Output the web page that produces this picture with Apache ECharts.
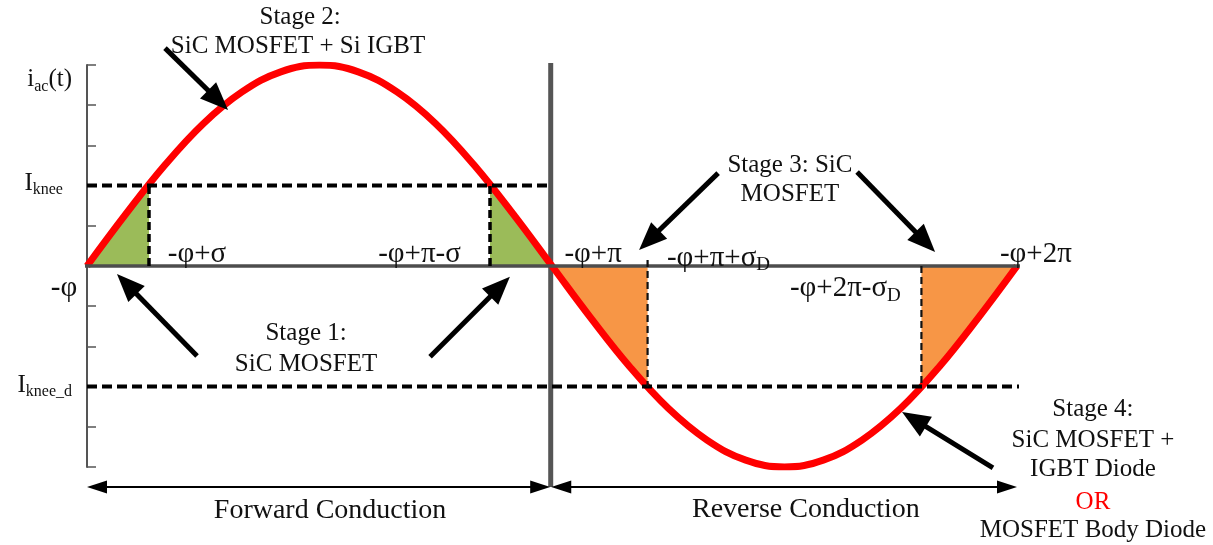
<!DOCTYPE html>
<html>
<head>
<meta charset="utf-8">
<script src="https://cdn.jsdelivr.net/npm/echarts@6/dist/echarts.min.js"></script>
<style>
  html, body { margin: 0; padding: 0; background: #ffffff; }
  #chart { width: 1213px; height: 545px; }
</style>
</head>
<body>
<div id="chart"></div>
<script>
// Phase angle, in degrees counted from -φ, and the normalised ac current i_ac(t)
const phaseDeg = [0, 15, 30, 45, 60, 75, 90, 105, 120, 135, 150, 165, 180,
                  195, 210, 225, 240, 255, 270, 285, 300, 315, 330, 345, 360];
const currentAc = [0, 1.29, 2.5, 3.54, 4.33, 4.83, 5, 4.83, 4.33, 3.54, 2.5, 1.29, 0,
                   -1.29, -2.5, -3.54, -4.33, -4.83, -5, -4.83, -4.33, -3.54, -2.5, -1.29, 0];

// Knee currents (forward and diode) on the same scale
const kneeForward = 2;
const kneeDiode = -3;

// Stage boundaries along the phase axis
const boundaryDeg = [0, 24, 156, 180, 217, 323, 360];
const boundaryLabels = ['-φ', '-φ+σ', '-φ+π-σ', '-φ+π', '-φ+π+σD', '-φ+2π-σD', '-φ+2π'];

// Vertical scale ticks
const yTicks = [-5, -4, -3, -2, -1, 0, 1, 2, 3, 4, 5];

const FONT = 'Liberation Serif';
const rich = {
  m: { fontFamily: FONT, fontSize: 25, fill: '#111111' },
  s: { fontFamily: FONT, fontSize: 16, fill: '#111111', padding: [14, 0, 0, 0] },
  p: { fontFamily: FONT, fontSize: 29, fill: '#111111' },
  ps: { fontFamily: FONT, fontSize: 19, fill: '#111111', padding: [15, 0, 0, 0] },
  b: { fontFamily: FONT, fontSize: 28, fill: '#111111' },
  r: { fontFamily: FONT, fontSize: 25, fill: '#ff0000' }
};

// Text annotations: anchor in (phase, current) coordinates
const notes = [
  { text: '{m|Stage 2:}', at: [82.5, 6.19] },
  { text: '{m|SiC MOSFET + Si IGBT}', at: [81.7, 5.47] },
  { text: '{m|i}{s|ac}{m|(t)}', at: [-5.8, 4.63], align: 'right' },
  { text: '{m|I}{s|knee}', at: [-9.3, 2.06], align: 'right' },
  { text: '{m|I}{s|knee_d}', at: [-5.8, -2.96], align: 'right' },
  { text: '{p|' + boundaryLabels[0] + '}', at: [-8.9, -0.55] },
  { text: '{p|' + boundaryLabels[1] + '}', at: [42.6, 0.3] },
  { text: '{p|' + boundaryLabels[2] + '}', at: [128.7, 0.28] },
  { text: '{p|' + boundaryLabels[3] + '}', at: [195.9, 0.28] },
  { text: '{p|-φ+π+σ}{ps|D}', at: [224.5, 0.2], align: 'left' },
  { text: '{p|-φ+2π-σ}{ps|D}', at: [272.1, -0.55], align: 'left' },
  { text: '{p|' + boundaryLabels[6] + '}', at: [353.4, 0.28], align: 'left' },
  { text: '{m|Stage 3: SiC}', at: [272.1, 2.51] },
  { text: '{m|MOSFET}', at: [272.1, 1.77] },
  { text: '{m|Stage 1:}', at: [84.8, -1.67] },
  { text: '{m|SiC MOSFET}', at: [84.8, -2.46] },
  { text: '{m|Stage 4:}', at: [389.4, -3.58] },
  { text: '{m|SiC MOSFET +}', at: [389.4, -4.33] },
  { text: '{m|IGBT Diode}', at: [389.4, -5.07] },
  { text: '{r|OR}', at: [389.4, -5.87] },
  { text: '{m|MOSFET Body Diode}', at: [389.4, -6.57] },
  { text: '{b|Forward Conduction}', at: [94.1, -6.09] },
  { text: '{b|Reverse Conduction}', at: [278.3, -6.07] }
];

// Pointer arrows: tail (phase, current) -> tip (phase, current)
const stageArrows = [
  [30.2, 5.42, 54.6, 3.88],
  [42.6, -2.24, 11.6, -0.2],
  [132.8, -2.26, 163.7, -0.27],
  [244.3, 2.31, 213.7, 0.4],
  [298.1, 2.34, 328.3, 0.35],
  [350.7, -5.02, 315.5, -3.63]
];
// Conduction span arrows (double headed)
const spanArrows = [
  [0, -5.5, 179.3, -5.5],
  [179.7, -5.5, 360, -5.5]
];

function arrowRenderer(shaft, headL, headW, both) {
  return function (params, api) {
    const a = api.coord([api.value(0), api.value(1)]);
    const b = api.coord([api.value(2), api.value(3)]);
    const dx = b[0] - a[0], dy = b[1] - a[1];
    const len = Math.hypot(dx, dy);
    const ux = dx / len, uy = dy / len, nx = -uy, ny = ux;
    const head = (tip, sx, sy) => ({
      type: 'polygon',
      shape: { points: [
        [tip[0], tip[1]],
        [tip[0] - sx * headL + nx * headW / 2, tip[1] - sy * headL + ny * headW / 2],
        [tip[0] - sx * headL - nx * headW / 2, tip[1] - sy * headL - ny * headW / 2]
      ] },
      style: { fill: '#000000' }
    });
    const start = both ? [a[0] + ux * headL * 0.8, a[1] + uy * headL * 0.8] : a;
    const end = [b[0] - ux * headL * 0.8, b[1] - uy * headL * 0.8];
    const children = [
      { type: 'line', shape: { x1: start[0], y1: start[1], x2: end[0], y2: end[1] },
        style: { stroke: '#000000', lineWidth: shaft } },
      head(b, ux, uy)
    ];
    if (both) children.push(head(a, -ux, -uy));
    return { type: 'group', children: children };
  };
}

function segment(points, style, z) {
  return {
    type: 'line', data: points, symbol: 'none', clip: false, silent: true,
    animation: false, z: z, lineStyle: style
  };
}

const curve = phaseDeg.map((d, i) => [d, currentAc[i]]);
const dashThick = { color: '#000000', width: 4, type: [10, 5] };
const dashThin = { color: '#111111', width: 2.2, type: [7, 4] };

const chart = echarts.init(document.getElementById('chart'));
chart.setOption({
  backgroundColor: '#ffffff',
  animation: false,
  grid: { left: 87, top: 65, width: 930, height: 402 },
  xAxis: { type: 'value', min: 0, max: 360, show: false },
  yAxis: {
    type: 'value', min: yTicks[0], max: yTicks[yTicks.length - 1], interval: 1,
    axisLine: { show: true, onZero: false, lineStyle: { color: '#555555', width: 2 } },
    axisTick: { show: true, inside: true, length: 9, lineStyle: { color: '#555555', width: 1.5 } },
    axisLabel: { show: false },
    splitLine: { show: false }
  },
  series: [
    // conduction shading triangles
    { type: 'line', data: [[boundaryDeg[0], 0], [boundaryDeg[1], kneeForward]], symbol: 'none',
      silent: true, z: 1, lineStyle: { color: '#333333', width: 0.8 },
      areaStyle: { color: '#9bbb59', opacity: 1 } },
    { type: 'line', data: [[boundaryDeg[2], kneeForward], [boundaryDeg[3], 0]], symbol: 'none',
      silent: true, z: 1, lineStyle: { color: '#333333', width: 0.8 },
      areaStyle: { color: '#9bbb59', opacity: 1 } },
    { type: 'line', data: [[boundaryDeg[3], 0], [boundaryDeg[4], kneeDiode]], symbol: 'none',
      silent: true, z: 1, lineStyle: { color: '#333333', width: 0.8 },
      areaStyle: { color: '#f79646', opacity: 1 } },
    { type: 'line', data: [[boundaryDeg[5], kneeDiode], [boundaryDeg[6], 0]], symbol: 'none',
      silent: true, z: 1, lineStyle: { color: '#333333', width: 0.8 },
      areaStyle: { color: '#f79646', opacity: 1 } },
    // divider between forward and reverse conduction
    segment([[179.5, 5.05], [179.5, -5.5]], { color: '#555555', width: 5 }, 2),
    // ac current
    { type: 'line', data: curve, symbol: 'none', smooth: 0.4, silent: true, z: 3,
      lineStyle: { color: '#ff0000', width: 7 } },
    // phase axis
    segment([[-14.3, 0], [364.3, 0]], { color: '#4d4d4d', width: 3.5 }, 4),
    // knee levels
    segment([[0, kneeForward], [boundaryDeg[3], kneeForward]], dashThick, 5),
    segment([[0, kneeDiode], [363, kneeDiode]], dashThick, 5),
    segment([[boundaryDeg[1], 0], [boundaryDeg[1], kneeForward]], { color: '#000000', width: 3.5, type: [8, 4] }, 5),
    segment([[boundaryDeg[2], 0], [boundaryDeg[2], kneeForward]], { color: '#000000', width: 3.5, type: [8, 4] }, 5),
    segment([[boundaryDeg[4], 0.15], [boundaryDeg[4], kneeDiode]], dashThin, 5),
    segment([[boundaryDeg[5], 0], [boundaryDeg[5], kneeDiode]], dashThin, 5),
    // arrows
    { type: 'custom', coordinateSystem: 'cartesian2d', clip: false, silent: true, z: 6,
      data: stageArrows, renderItem: arrowRenderer(5, 28, 23, false) },
    { type: 'custom', coordinateSystem: 'cartesian2d', clip: false, silent: true, z: 6,
      data: spanArrows, renderItem: arrowRenderer(2, 20, 13, true) },
    // text
    { type: 'custom', coordinateSystem: 'cartesian2d', clip: false, silent: true, z: 7,
      data: notes.map((n, i) => [n.at[0], n.at[1], i]),
      renderItem: function (params, api) {
        const n = notes[api.value(2)];
        const p = api.coord([api.value(0), api.value(1)]);
        return { type: 'text', x: p[0], y: p[1],
          style: { text: n.text, rich: rich, align: n.align || 'center', verticalAlign: 'middle',
                   fontFamily: FONT, fontSize: 25, fill: '#111111' } };
      } }
  ]
});
</script>
</body>
</html>
